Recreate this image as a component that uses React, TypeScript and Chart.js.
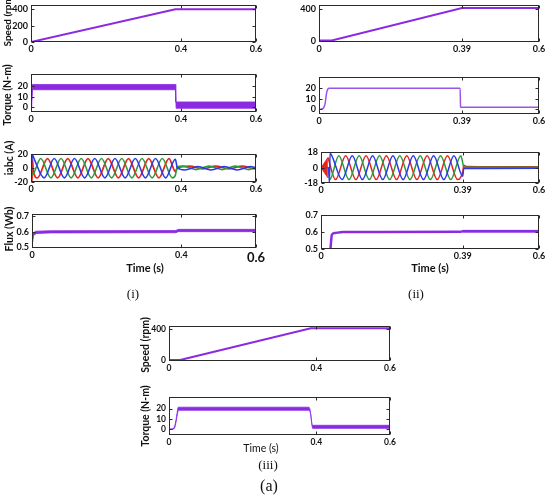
import React, { useEffect, useRef } from "react";
import { Chart, registerables } from "chart.js";

Chart.register(...registerables);

type Pt = [number, number];

// ---------- colours ----------
const PURPLE = "#8a2be2";
const PURPLE_LIGHT = "#9a55e6";
const RED = "#e3261f";
const GREEN = "#2f9a3c";
const BLUE = "#2b39e6";

// ---------- tick values / labels ----------
const X_TICKS_40 = [0, 0.4, 0.6];
const X_LABELS_40 = ["0", "0.4", "0.6"];
const X_TICKS_39 = [0, 0.39, 0.6];
const X_LABELS_39 = ["0", "0.39", "0.6"];

const SPEED_TICKS_I = [0, 200, 400];
const SPEED_TICKS = [0, 400];
const TORQUE_TICKS = [0, 10, 20];
const CURRENT_TICKS_I = [-20, 0, 20];
const CURRENT_TICKS_II = [-18, 0, 18];
const FLUX_TICKS = [0.5, 0.6, 0.7];
const FLUX_LABELS = ["0.5", "0.6", "0.7"];

// ---------- (i) ----------
const speedI: Pt[] = [[0, 0], [0.385, 400], [0.6, 400]];
const torqueIUpper: Pt[] = [[0, 0], [0.002, 0.5], [0.003, 21.5], [0.385, 21.5], [0.386, 5], [0.6, 5]];
const torqueILower: Pt[] = [[0, 0], [0.002, 0], [0.004, 16.5], [0.385, 16.5], [0.387, -1], [0.6, -1]];
const iaI: Pt[] = [
  [0, 0], [0.0012, 20], [0.0025, -20], [0.004, 12], [0.006, -4], [0.017, -14], [0.044, 14], [0.071, -14],
  [0.098, 14], [0.125, -14], [0.152, 14], [0.179, -14], [0.206, 14], [0.233, -14], [0.26, 14],
  [0.287, -14], [0.314, 14], [0.341, -14], [0.368, 14], [0.385, -5], [0.39, 0], [0.423, 3],
  [0.458, -1], [0.493, 3], [0.528, -1], [0.563, 3], [0.598, -1], [0.6, -1],
];
const ibI: Pt[] = [
  [0, 0], [0.004, 19], [0.008, 14], [0.035, -14], [0.062, 14], [0.089, -14], [0.116, 14], [0.143, -14],
  [0.17, 14], [0.197, -14], [0.224, 14], [0.251, -14], [0.278, 14], [0.305, -14], [0.332, 14],
  [0.359, -14], [0.385, 13], [0.39, 1], [0.41, -2.5], [0.445, 2.5], [0.48, -2.5], [0.515, 2.5],
  [0.55, -2.5], [0.585, 2.5], [0.6, 0.5],
];
const icI: Pt[] = [
  [0, 0], [0.003, -10], [0.026, 14], [0.053, -14], [0.08, 14], [0.107, -14], [0.134, 14], [0.161, -14],
  [0.188, 14], [0.215, -14], [0.242, 14], [0.269, -14], [0.296, 14], [0.323, -14], [0.35, 14],
  [0.377, -14], [0.385, -10], [0.39, 2], [0.405, 3], [0.44, -2], [0.475, 3], [0.51, -2],
  [0.545, 3], [0.58, -2], [0.6, 1],
];
const fluxIUpper: Pt[] = [[0, 0.5], [0.003, 0.592], [0.01, 0.603], [0.05, 0.606], [0.385, 0.607], [0.392, 0.615], [0.6, 0.615]];
const fluxILower: Pt[] = [[0, 0.5], [0.004, 0.575], [0.012, 0.588], [0.05, 0.592], [0.385, 0.593], [0.392, 0.6], [0.6, 0.6]];

// ---------- (ii) ----------
const speedII: Pt[] = [[0, 8], [0.035, 8], [0.39, 410], [0.6, 410]];
const torqueII: Pt[] = [
  [0, 0], [0.008, 0.3], [0.013, 1.5], [0.017, 6], [0.02, 14], [0.024, 19], [0.028, 19.8],
  [0.385, 19.8], [0.386, 2], [0.388, 1.8], [0.6, 1.8],
];
const wedgeUpper: Pt[] = [[0, 0], [0.019, 12]];
const wedgeLower: Pt[] = [[0, 0], [0.019, -12]];
const iaII: Pt[] = [
  [0.019, 12], [0.04, -14], [0.068, 14], [0.096, -14], [0.124, 14], [0.152, -14], [0.18, 14],
  [0.208, -14], [0.236, 14], [0.264, -14], [0.292, 14], [0.32, -14], [0.348, 14], [0.376, -14],
  [0.39, -5], [0.393, 3], [0.4, 1.5], [0.6, 1],
];
const ibII: Pt[] = [
  [0, 0], [0.021, 0], [0.023, -17], [0.025, 17], [0.03, 14], [0.058, -14], [0.086, 14], [0.114, -14],
  [0.142, 14], [0.17, -14], [0.198, 14], [0.226, -14], [0.254, 14], [0.282, -14], [0.31, 14],
  [0.338, -14], [0.366, 14], [0.39, -10], [0.393, -1], [0.6, -0.5],
];
const icII: Pt[] = [
  [0.021, 0], [0.024, -14], [0.049, 14], [0.077, -14], [0.105, 14], [0.133, -14], [0.161, 14],
  [0.189, -14], [0.217, 14], [0.245, -14], [0.273, 14], [0.301, -14], [0.329, 14], [0.357, -14],
  [0.385, 14], [0.39, 6], [0.393, 0.5], [0.6, 0.4],
];
const fluxII: Pt[] = [
  [0.026, 0.5], [0.03, 0.585], [0.038, 0.595], [0.06, 0.601], [0.385, 0.602], [0.39, 0.606], [0.6, 0.606],
];
const fluxIIRippleUpper: Pt[] = [[0.39, 0.611], [0.6, 0.611]];
const fluxIIRippleLower: Pt[] = [[0.39, 0.601], [0.6, 0.601]];

// ---------- (iii) ----------
const speedIII: Pt[] = [[0, 0], [0.03, 0], [0.385, 410], [0.6, 410]];
const torqueIIIUpper: Pt[] = [
  [0, 0], [0.01, 0.4], [0.015, 2.5], [0.019, 9], [0.022, 16], [0.025, 21.5], [0.38, 21.5],
  [0.383, 19], [0.389, 3.8], [0.6, 3.8],
];
const torqueIIILower: Pt[] = [
  [0, 0], [0.01, 0], [0.016, 2], [0.02, 9], [0.023, 15], [0.026, 18.5], [0.38, 18.5],
  [0.385, 14], [0.39, 0.8], [0.6, 0.8],
];

// ---------- chart helpers ----------
const xy = (pts: Pt[]) => pts.map(([x, y]) => ({ x, y }));

// smooth curve through the given points (monotone keeps peaks flat)
const curve = (pts: Pt[], color: string, width: number, extra: any = {}) => ({
  data: xy(pts),
  borderColor: color,
  backgroundColor: color,
  borderWidth: width,
  pointRadius: 0,
  cubicInterpolationMode: "monotone",
  fill: false,
  ...extra,
});

// straight segments between the given points
const polyline = (pts: Pt[], color: string, width: number, extra: any = {}) =>
  curve(pts, color, width, { cubicInterpolationMode: "default", tension: 0, ...extra });

const band = (upper: Pt[], lower: Pt[], color: string, smooth = false) => {
  const mk = smooth ? curve : polyline;
  return [mk(upper, color, 0.8, { fill: "+1", backgroundColor: color }), mk(lower, color, 0.8)];
};

const framePlugin = {
  id: "frame",
  afterDatasetsDraw(chart: any) {
    const { ctx, chartArea: a, scales } = chart;
    const l = Math.round(a.left) + 0.5;
    const t = Math.round(a.top) + 0.5;
    const r = Math.round(a.right) - 0.5;
    const b = Math.round(a.bottom) - 0.5;
    ctx.save();
    ctx.strokeStyle = "#2a2a2a";
    ctx.lineWidth = 1;
    ctx.strokeRect(l, t, r - l, b - t);
    const tl = 3;
    ctx.beginPath();
    scales.x.ticks.forEach((tk: any) => {
      const px = Math.round(scales.x.getPixelForValue(tk.value)) + 0.5;
      ctx.moveTo(px, b);
      ctx.lineTo(px, b - tl);
      ctx.moveTo(px, t);
      ctx.lineTo(px, t + tl);
    });
    scales.y.ticks.forEach((tk: any) => {
      const py = Math.round(scales.y.getPixelForValue(tk.value)) + 0.5;
      ctx.moveTo(l, py);
      ctx.lineTo(l + tl, py);
      ctx.moveTo(r, py);
      ctx.lineTo(r - tl, py);
    });
    ctx.stroke();
    ctx.restore();
  },
};

type Box = [number, number, number, number];

interface PanelProps {
  box: Box;
  yMin: number;
  yMax: number;
  yTicks: number[];
  yLabels?: string[];
  xTicks: number[];
  xLabels: string[];
  datasets: any[];
  tickSize?: number;
  bigLast?: boolean;
}

const FONT = "Lato, 'Open Sans', sans-serif";
const Y_W = 30;
const PAD_T = 7;
const PAD_R = 14;
const X_H = 20;

function Panel(props: PanelProps) {
  const ref = useRef<HTMLCanvasElement | null>(null);
  const [L, T, R, B] = props.box;
  const width = Y_W + (R - L) + PAD_R;
  const height = PAD_T + (B - T) + X_H;
  const size = props.tickSize ?? 9;

  useEffect(() => {
    if (!ref.current) return;
    const chart = new Chart(ref.current, {
      type: "line",
      data: { datasets: props.datasets },
      options: {
        animation: false,
        responsive: false,
        maintainAspectRatio: false,
        devicePixelRatio: 1,
        events: [],
        layout: { padding: { top: PAD_T, right: PAD_R, left: 0, bottom: 0 } },
        plugins: { legend: { display: false }, tooltip: { enabled: false } },
        scales: {
          x: {
            type: "linear",
            min: 0,
            max: 0.6,
            grid: { display: false, drawTicks: false },
            border: { display: false },
            afterBuildTicks: (s: any) => {
              s.ticks = props.xTicks.map((v) => ({ value: v }));
            },
            afterFit: (s: any) => {
              s.height = X_H;
            },
            ticks: {
              autoSkip: false,
              maxRotation: 0,
              padding: 2,
              color: "#111",
              font: (c: any) =>
                props.bigLast && c.index === props.xTicks.length - 1
                  ? { family: FONT, weight: "bold", size: 13 }
                  : { family: FONT, weight: "bold", size },
              callback: (_v: any, i: number) => props.xLabels[i],
            },
          },
          y: {
            type: "linear",
            min: props.yMin,
            max: props.yMax,
            grid: { display: false, drawTicks: false },
            border: { display: false },
            afterBuildTicks: (s: any) => {
              s.ticks = props.yTicks.map((v) => ({ value: v }));
            },
            afterFit: (s: any) => {
              s.width = Y_W;
            },
            ticks: {
              autoSkip: false,
              padding: 3,
              color: "#111",
              font: { family: FONT, weight: "bold", size },
              callback: (_v: any, i: number) =>
                props.yLabels ? props.yLabels[i] : String(props.yTicks[i]),
            },
          },
        },
      } as any,
      plugins: [framePlugin],
    });
    return () => chart.destroy();
  }, []);

  return (
    <canvas
      ref={ref}
      width={width}
      height={height}
      style={{
        position: "absolute",
        left: L - Y_W,
        top: T - PAD_T,
        width,
        height,
      }}
    />
  );
}

function Label(p: {
  text: string;
  x: number;
  y: number;
  size: number;
  bold?: boolean;
  rotate?: boolean;
  serif?: boolean;
}) {
  return (
    <div
      style={{
        position: "absolute",
        left: p.x,
        top: p.y,
        transform: `translate(-50%, -50%)${p.rotate ? " rotate(-90deg)" : ""}`,
        whiteSpace: "nowrap",
        lineHeight: 1,
        fontSize: p.size,
        fontWeight: p.bold ? 700 : 400,
        fontFamily: p.serif ? "'Liberation Serif', 'DejaVu Serif', serif" : FONT,
        color: "#111",
      }}
    >
      {p.text}
    </div>
  );
}

export default function App() {
  return (
    <div
      style={{
        position: "fixed",
        left: 0,
        top: 0,
        width: 548,
        height: 495,
        background: "#fff",
        overflow: "hidden",
      }}
    >
      {/* (i) */}
      <Panel box={[31, 4, 256, 42]} yMin={0} yMax={447} yTicks={SPEED_TICKS_I}
        xTicks={X_TICKS_40} xLabels={X_LABELS_40} datasets={[polyline(speedI, PURPLE, 2)]} />
      <Panel box={[31, 73, 256, 112]} yMin={-4.5} yMax={31} yTicks={TORQUE_TICKS}
        xTicks={X_TICKS_40} xLabels={X_LABELS_40} datasets={band(torqueIUpper, torqueILower, PURPLE)} />
      <Panel box={[31, 153, 256, 182]} yMin={-20} yMax={20} yTicks={CURRENT_TICKS_I}
        xTicks={X_TICKS_40} xLabels={X_LABELS_40}
        datasets={[curve(ibI, BLUE, 1.6), curve(icI, GREEN, 1.6), curve(iaI, RED, 1.8)]} />
      <Panel box={[32, 213, 256, 248]} yMin={0.494} yMax={0.712} yTicks={FLUX_TICKS} yLabels={FLUX_LABELS}
        xTicks={X_TICKS_40} xLabels={X_LABELS_40} bigLast
        datasets={band(fluxIUpper, fluxILower, PURPLE)} />

      {/* (ii) */}
      <Panel box={[319, 4, 539, 42]} yMin={-12} yMax={442} yTicks={SPEED_TICKS}
        xTicks={X_TICKS_39} xLabels={X_LABELS_39} datasets={[polyline(speedII, PURPLE, 2)]} />
      <Panel box={[319, 76, 539, 114]} yMin={-4.5} yMax={30} yTicks={TORQUE_TICKS}
        xTicks={X_TICKS_39} xLabels={X_LABELS_39} datasets={[curve(torqueII, PURPLE_LIGHT, 1.5)]} />
      <Panel box={[321, 151, 539, 183]} yMin={-18} yMax={18} yTicks={CURRENT_TICKS_II}
        xTicks={X_TICKS_39} xLabels={X_LABELS_39}
        datasets={[
          ...band(wedgeUpper, wedgeLower, RED),
          curve(ibII, BLUE, 1.5),
          curve(icII, GREEN, 1.5),
          curve(iaII, RED, 1.5),
        ]} />
      <Panel box={[321, 214, 539, 249]} yMin={0.5} yMax={0.7} yTicks={FLUX_TICKS} yLabels={FLUX_LABELS}
        xTicks={X_TICKS_39} xLabels={X_LABELS_39}
        datasets={[
          curve(fluxII, PURPLE, 2.5),
          ...band(fluxIIRippleUpper, fluxIIRippleLower, PURPLE),
        ]} />

      {/* (iii) */}
      <Panel box={[169, 325, 390, 361]} yMin={-12.5} yMax={437.5} yTicks={SPEED_TICKS} tickSize={8.5}
        xTicks={X_TICKS_40} xLabels={X_LABELS_40} datasets={[polyline(speedIII, PURPLE, 2)]} />
      <Panel box={[169, 396, 390, 435]} yMin={-5.7} yMax={31.4} yTicks={TORQUE_TICKS} tickSize={8.5}
        xTicks={X_TICKS_40} xLabels={X_LABELS_40}
        datasets={band(torqueIIIUpper, torqueIIILower, PURPLE, true)} />

      {/* axis titles */}
      <Label text="Speed (rpm)" x={7} y={20} size={10} bold rotate />
      <Label text="Torque (N-m)" x={7} y={95} size={10.5} bold rotate />
      <Label text="iabc (A)" x={9} y={158} size={10.5} bold rotate />
      <Label text="Flux (Wb)" x={9} y={229} size={10.5} bold rotate />
      <Label text="Time (s)" x={145} y={267} size={11} bold />
      <Label text="Time (s)" x={430} y={267} size={11} bold />
      <Label text="Speed (rpm)" x={145} y={345} size={10.5} bold rotate />
      <Label text="Torque (N-m)" x={145} y={416} size={10.5} bold rotate />
      <Label text="Time (s)" x={261} y={448} size={10.5} />

      {/* captions */}
      <Label text="(i)" x={133} y={293} size={13} serif />
      <Label text="(ii)" x={416} y={293} size={13} serif />
      <Label text="(iii)" x={268} y={464} size={13} serif />
      <Label text="(a)" x={269} y={486} size={16} serif />
    </div>
  );
}
